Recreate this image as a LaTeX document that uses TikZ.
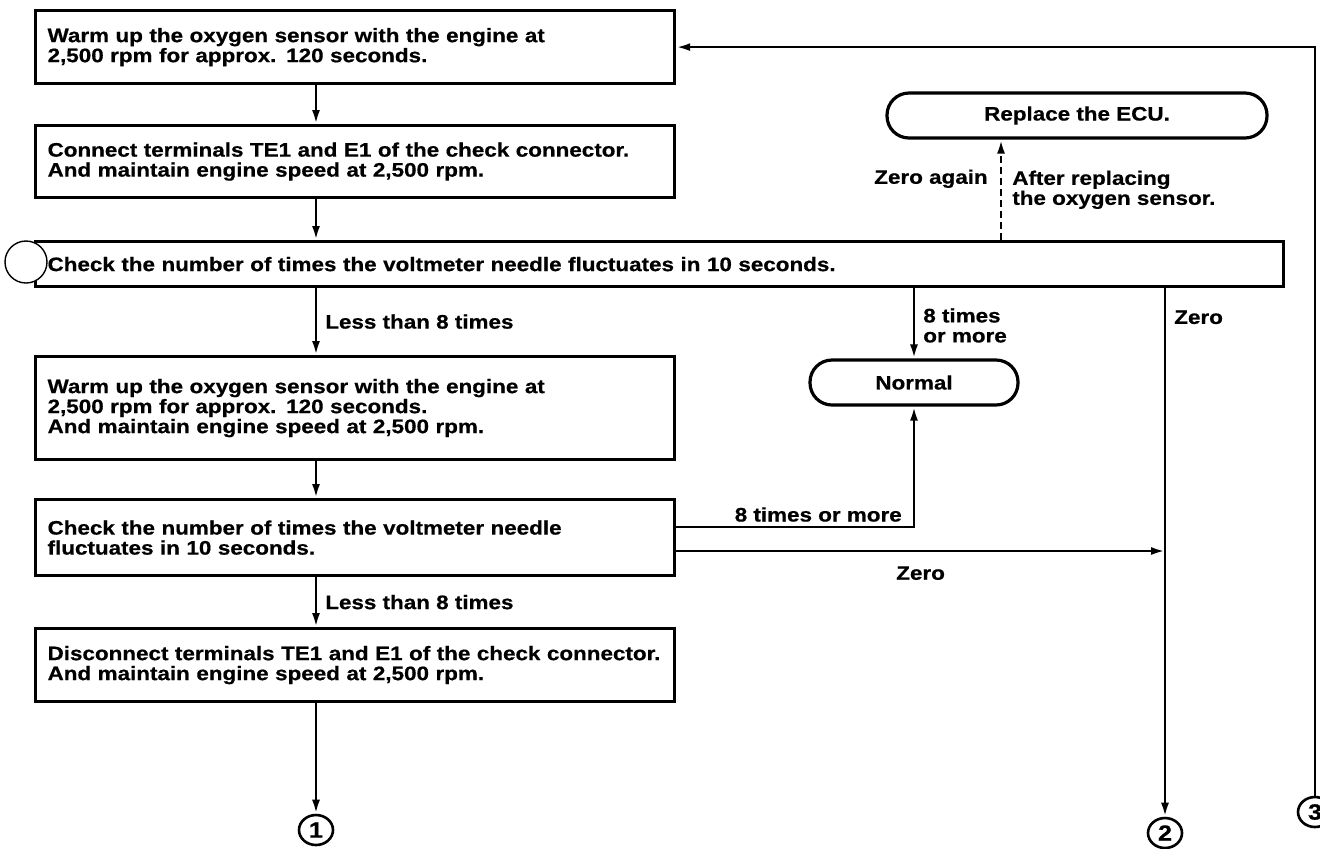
\documentclass[tikz,border=0pt]{standalone}
\usepackage{fontspec}
\setmainfont{Liberation Sans}[FakeStretch=1.15, BoldFeatures={FakeBold=0.6}]
\usetikzlibrary{arrows.meta,positioning,shapes.geometric}

\tikzset{
  stepbox/.style={draw, line width=1.6pt, anchor=north west, align=left,
    text width=307.5pt, inner xsep=6pt, inner ysep=0pt},
  endbox/.style={draw, line width=1.6pt, rounded corners=11pt, align=center},
  lbl/.style={inner sep=0pt, align=left},
  flow/.style={line width=1.3pt, -{Latex[length=7pt,width=4pt]}},
  refmark/.style={ellipse, draw, line width=1.3pt, inner sep=0pt,
    minimum width=17pt, minimum height=15pt, font=\fontsize{11pt}{11pt}\selectfont\bfseries}
}

\begin{document}
\begin{tikzpicture}[x=0.5pt,y=-0.5pt,
    font=\fontsize{9.75pt}{10pt}\selectfont\bfseries]
  \useasboundingbox (0,0) rectangle (1320,848);

  % columns and levels of the flow lines
  \coordinate (colL) at (316,0);
  \coordinate (colE) at (1001,0);
  \coordinate (hiY) at (0,527);
  \coordinate (loY) at (0,551);

  %------------------
  % steps
  %------------------
  \node[stepbox, minimum height=36.5pt] (warmA) at (34,9)
    {Warm up the oxygen sensor with the engine at\\2,500 rpm for approx. 120 seconds.};
  \node[stepbox, minimum height=36pt] (conn) at (34,124)
    {Connect terminals TE1 and E1 of the check connector.\\And maintain engine speed at 2,500 rpm.};
  \node[stepbox, text width=612pt, minimum height=22.5pt] (chkA) at (34,240)
    {Check the number of times the voltmeter needle fluctuates in 10 seconds.};
  \node[circle, draw, fill=white, line width=0.7pt, minimum size=21pt, inner sep=0pt] (hole) at (26,262) {};
  \node[stepbox, minimum height=51.5pt] (warmB) at (34,355)
    {Warm up the oxygen sensor with the engine at\\2,500 rpm for approx. 120 seconds.\\And maintain engine speed at 2,500 rpm.};
  \node[stepbox, minimum height=38pt] (chkB) at (34,498)
    {Check the number of times the voltmeter needle\\fluctuates in 10 seconds.};
  \node[stepbox, minimum height=36.5pt] (disc) at (34,627)
    {Disconnect terminals TE1 and E1 of the check connector.\\And maintain engine speed at 2,500 rpm.};

  % end boxes
  \node[endbox, minimum width=190pt, minimum height=22.5pt] (ecu) at (1077,115.5) {Replace the ECU.};
  \node[endbox, minimum width=104pt, minimum height=22.5pt] (normal) at (914,382.5) {Normal};

  % circled marks
  \node[refmark] (ref1) at (316,830) {1};
  \node[refmark] (ref2) at (1165,833) {2};
  \node[refmark] (ref3) at (1315,812) {3};

  %------------------
  % flow lines
  %------------------
  \draw[flow] (warmA.south -| colL) -- (conn.north -| colL);
  \draw[flow] (conn.south -| colL) -- (chkA.north -| colL);
  \draw[flow] (chkA.south -| colL) -- node[lbl, right=4pt] {Less than 8 times} (warmB.north -| colL);
  \draw[flow] (warmB.south -| colL) -- (chkB.north -| colL);
  \draw[flow] (chkB.south -| colL) -- node[lbl, right=4pt] {Less than 8 times} (disc.north -| colL);
  \draw[flow] (disc.south -| colL) -- (ref1.north);

  \draw[flow, dash pattern=on 3.5pt off 2pt] (chkA.north -| colE)
    -- node[lbl, pos=0.61, left=6pt] {Zero again}
       node[lbl, pos=0.5, right=5pt] {After replacing\\the oxygen sensor.} (ecu.south -| colE);
  \draw[flow] (chkA.south -| normal.north) -- node[lbl, pos=0.53, right=4pt] {8 times\\or more} (normal.north);
  \draw[flow] (chkA.south -| ref2) -- node[lbl, pos=0.055, right=4pt] {Zero} (ref2.north);

  \draw[flow] (chkB.east |- hiY) -| node[lbl, pos=0.477, anchor=south east, yshift=2pt] {8 times or more} (normal.south);
  \draw[flow] (chkB.east |- loY) -- node[lbl, below=7pt] {Zero} (loY -| ref2);

  % return line from 3
  \draw[flow] (ref3.north) |- (warmA.east);
\end{tikzpicture}
\end{document}
